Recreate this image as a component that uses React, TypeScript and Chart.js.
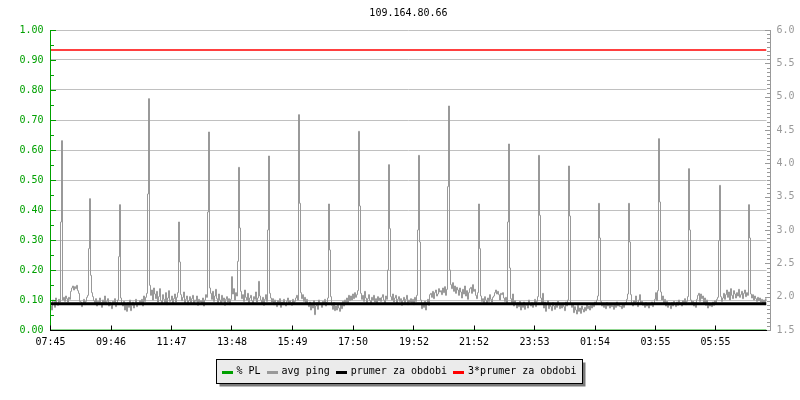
import React, { useEffect, useRef } from "react";
import { Chart, registerables } from "chart.js";

Chart.register(...registerables);

// ---------------- data ----------------
const chartTitle = "109.164.80.66";
const startTime = "07:45";
const timeLabels = ["07:45", "09:46", "11:47", "13:48", "15:49", "17:50", "19:52", "21:52", "23:53", "01:54", "03:55", "05:55"];
const sampleStepMin = 2;
const axisEndMin = 1432;

const seriesNames = ["% PL", "avg ping", "prumer za obdobi", "3*prumer za obdobi"];
const seriesColors = ["#00a000", "#999999", "#000000", "#ff0000"];

// packet loss (left axis, %) — none recorded
const packetLossPct = 0;
// average of the period (ms, right axis)
const periodAverage = 1.895;
const periodAverageTriple = 5.7;

// avg ping, one sample per 2 minutes (ms, right axis)
const avgPing: number[] = [
  1.86,1.80,1.95,1.93,1.84,1.98,1.90,1.87,1.96,1.92,3.12,4.34,1.95,1.99,1.93,2.01,1.97,1.92,1.99,1.96,2.08,2.13,2.16,2.10,2.15,2.12,2.17,2.09,2.05,1.93,
  1.92,1.85,1.90,1.96,1.88,1.93,1.99,2.02,2.72,3.47,2.32,2.06,2.00,1.94,1.90,1.97,1.86,1.93,1.89,1.98,1.91,1.84,1.95,1.90,2.01,1.88,1.93,1.97,1.86,1.92,
  1.87,1.82,1.93,1.89,1.97,1.85,1.91,1.95,2.60,3.38,1.98,1.90,1.86,1.93,1.80,1.88,1.78,1.91,1.84,1.95,1.79,1.87,1.92,1.83,1.89,1.96,1.85,1.91,1.88,1.94,
  1.90,1.96,1.86,2.01,1.93,1.99,2.05,3.54,4.97,2.17,2.02,2.10,1.95,2.13,2.04,1.97,2.08,1.92,2.00,2.12,1.94,1.89,2.03,1.96,1.91,2.06,1.88,1.98,2.09,1.93,
  1.95,2.01,1.89,1.97,2.04,1.92,1.99,2.06,3.12,2.52,2.03,1.94,1.99,2.07,1.90,1.96,2.01,1.88,1.94,2.00,1.91,1.97,2.02,1.89,1.95,1.93,2.01,1.87,1.96,1.92,
  1.94,1.90,1.98,1.86,1.95,2.03,1.99,3.27,4.47,2.13,2.05,1.96,2.08,1.93,2.01,2.11,1.97,1.91,2.04,1.95,1.89,2.02,1.93,1.98,1.87,1.96,2.00,1.92,1.97,1.88,
  1.96,2.30,2.04,2.12,1.95,2.06,2.01,2.53,3.94,3.03,2.08,1.97,2.03,1.93,2.10,1.99,1.95,2.05,1.91,1.98,2.02,1.94,1.89,2.00,1.96,2.07,1.92,1.98,2.23,2.01,
  1.95,1.90,1.99,1.87,1.96,2.03,1.93,3.00,4.11,2.05,1.98,1.92,1.97,1.88,1.95,1.91,1.85,1.94,1.89,1.97,1.84,1.92,1.88,1.96,1.90,1.86,1.93,1.98,1.89,1.94,
  1.91,1.87,1.96,1.89,1.93,1.98,2.02,1.95,4.73,3.40,2.06,1.97,2.03,1.93,1.99,1.90,1.96,1.88,1.85,1.92,1.80,1.89,1.83,1.94,1.73,1.86,1.91,1.81,1.95,1.88,
  1.90,1.84,1.93,1.88,1.96,1.86,1.92,1.98,3.39,2.70,2.00,1.87,1.81,1.91,1.79,1.86,1.80,1.89,1.83,1.78,1.88,1.82,1.93,1.86,1.95,1.91,1.98,1.89,2.02,1.94,
  2.01,1.95,2.04,1.97,2.06,1.99,2.03,2.09,4.48,3.36,2.05,1.96,2.02,1.93,2.08,1.98,1.91,1.97,2.03,1.94,1.90,1.99,1.95,2.02,1.92,1.97,1.89,2.00,1.94,1.98,
  1.93,1.99,2.03,1.95,1.90,2.01,1.96,2.40,3.98,3.02,2.00,1.95,2.04,1.92,1.98,2.02,1.89,1.96,2.00,1.93,1.97,1.87,1.94,1.99,1.91,1.96,2.02,1.88,1.95,1.92,
  1.97,1.91,1.96,1.88,1.99,1.93,2.02,3.00,4.12,2.82,1.95,1.82,1.90,1.84,1.93,1.80,1.91,1.96,1.87,2.03,2.05,1.99,2.08,1.97,2.06,2.10,2.01,2.04,2.12,2.07,
  2.09,2.03,2.13,2.06,2.15,2.02,2.11,3.65,4.86,2.40,2.18,2.12,2.21,2.08,2.16,2.05,2.14,2.10,2.02,2.13,2.07,1.98,2.11,2.04,2.16,2.01,2.09,1.96,2.06,2.12,
  2.14,2.05,2.18,2.08,2.11,2.02,1.97,2.06,3.39,2.72,2.01,1.93,1.97,1.91,2.00,1.95,1.89,1.98,1.93,2.03,1.96,1.92,1.99,2.01,2.06,2.10,2.04,2.08,2.03,1.95,
  2.05,2.03,2.06,1.98,1.93,1.99,1.90,3.12,4.29,2.43,1.97,1.91,2.04,1.86,1.94,1.89,1.83,1.91,1.85,1.93,1.80,1.88,1.84,1.92,1.81,1.87,1.90,1.83,1.95,1.88,
  1.86,1.91,1.84,1.89,1.96,1.85,1.93,2.00,4.12,3.22,1.98,1.89,2.05,1.83,1.92,1.78,1.88,1.94,1.82,1.90,1.85,1.79,1.91,1.86,1.81,1.89,1.84,1.93,1.87,1.82,
  1.88,1.83,1.90,1.85,1.79,1.92,1.86,1.95,3.96,3.21,1.90,1.84,1.88,1.76,1.85,1.80,1.74,1.87,1.78,1.83,1.75,1.86,1.81,1.77,1.84,1.79,1.88,1.82,1.86,1.80,
  1.87,1.83,1.90,1.85,1.92,1.88,1.95,2.01,3.40,2.88,1.93,1.86,1.90,1.84,1.89,1.82,1.91,1.86,1.88,1.83,1.90,1.85,1.87,1.81,1.89,1.84,1.92,1.86,1.88,1.85,
  1.86,1.82,1.89,1.84,1.88,1.91,1.96,2.04,3.40,2.82,2.03,1.90,1.86,1.94,1.88,2.01,1.92,1.85,1.95,2.03,1.89,1.93,1.87,1.90,1.84,1.91,1.86,1.89,1.83,1.90,
  1.87,1.92,1.85,1.90,1.96,2.06,1.94,2.09,4.37,3.42,2.07,1.95,2.01,1.89,1.96,1.86,1.93,1.84,1.90,1.87,1.82,1.91,1.86,1.93,1.88,1.85,1.92,1.87,1.95,1.89,
  1.91,1.86,1.94,1.89,1.97,1.88,1.93,2.00,3.92,3.00,1.95,1.88,1.93,1.86,1.91,1.84,1.96,2.02,2.05,1.93,2.04,1.97,2.01,1.90,1.98,1.87,1.95,1.83,1.90,1.86,
  1.89,1.85,1.92,1.87,1.94,1.90,1.96,1.99,2.84,3.67,2.00,1.93,1.98,2.05,1.96,2.03,2.10,1.99,2.07,1.95,2.12,2.02,1.97,2.09,2.04,1.98,2.06,2.01,2.11,1.99,
  2.03,2.08,1.97,2.05,2.10,2.00,2.06,2.02,3.38,2.88,2.04,1.98,2.03,1.95,2.01,1.97,1.93,1.99,1.94,1.98,1.92,1.96,1.90,1.95,1.88,1.97,1.93,
];

// ---------------- helpers ----------------
const FONT_FAMILY = "'DejaVu Sans Mono', monospace";
const FONT_SIZE = 10;

function toMin(s: string) {
  const [h, m] = s.split(":").map(Number);
  return h * 60 + m;
}
const startMin = toMin(startTime);
const tickMinutes = timeLabels.map((l) => (toMin(l) - startMin + 1440) % 1440);

const pingPoints = avgPing.map((v, i) => ({ x: i * sampleStepMin, y: v }));
const plPoints = avgPing.map((_, i) => ({ x: i * sampleStepMin, y: packetLossPct }));
const avgPoints = [
  { x: 0, y: periodAverage },
  { x: axisEndMin, y: periodAverage },
];
const avg3Points = [
  { x: 0, y: periodAverageTriple },
  { x: axisEndMin, y: periodAverageTriple },
];

const decorPlugin = {
  id: "decor",
  afterDatasetsDraw(chart: any) {
    const { ctx, chartArea: a, scales } = chart;
    const xs = scales.x;
    const yL = scales.yL;
    const yR = scales.yR;
    const lx = Math.floor(a.left) + 0.5;
    const rx = Math.floor(a.right) + 4 + 0.5;
    const by = Math.floor(a.bottom) + 0.5;
    ctx.save();
    ctx.lineWidth = 1;

    // left axis (green) with inward ticks
    ctx.strokeStyle = seriesColors[0];
    ctx.beginPath();
    ctx.moveTo(lx, a.top);
    ctx.lineTo(lx, by + 0.5);
    for (let k = 0; k <= 20; k++) {
      const py = Math.round(yL.getPixelForValue(k * 0.05)) + 0.5;
      const len = k % 2 === 0 ? 5 : 3;
      ctx.moveTo(lx - 0.5, py);
      ctx.lineTo(lx + 0.5 + len, py);
    }
    ctx.stroke();

    // right axis (grey), offset 4px, ticks inward
    ctx.strokeStyle = "#999999";
    ctx.beginPath();
    ctx.moveTo(rx, a.top);
    ctx.lineTo(rx, by + 0.5);
    for (let k = 0; k <= 72; k++) {
      const v = 1.5 + k * 0.0625;
      const py = Math.round(yR.getPixelForValue(v)) + 0.5;
      const len = k % 8 === 0 ? 5 : 3;
      ctx.moveTo(rx + 0.5, py);
      ctx.lineTo(rx - 0.5 - len, py);
    }
    ctx.stroke();

    // x axis (black) with inward ticks
    ctx.strokeStyle = "#000000";
    ctx.beginPath();
    ctx.moveTo(lx - 0.5, by);
    ctx.lineTo(Math.floor(a.right) + 1, by);
    for (const t of tickMinutes) {
      const px = Math.floor(xs.getPixelForValue(t)) + 0.5;
      ctx.moveTo(px, by + 0.5);
      ctx.lineTo(px, by - 5);
    }
    ctx.stroke();
    ctx.restore();
  },
  afterDraw(chart: any) {
    const { ctx, chartArea: a, width } = chart;
    ctx.save();
    ctx.font = `${FONT_SIZE}px ${FONT_FAMILY}`;

    // title
    ctx.fillStyle = "#000";
    ctx.textAlign = "center";
    ctx.textBaseline = "middle";
    ctx.fillText(chartTitle, (a.left + a.right) / 2, 13);

    // legend box
    const sw = 11, g1 = 4, g2 = 6, padL = 5, padR = 6;
    const widths = seriesNames.map((n) => ctx.measureText(n).width);
    let total = padL + padR;
    widths.forEach((w, i) => {
      total += sw + g1 + w + (i < widths.length - 1 ? g2 : 0);
    });
    total = Math.round(total);
    const bx = Math.round(width / 2 - total / 2) - 1 + 0.5;
    const bY = 359.5;
    const bh = 24;
    ctx.fillStyle = "#7a7a7a";
    ctx.fillRect(bx + 3, bY + 3, total, bh);
    ctx.fillStyle = "#ebebeb";
    ctx.fillRect(bx, bY, total, bh);
    ctx.strokeStyle = "#000";
    ctx.lineWidth = 1;
    ctx.strokeRect(bx, bY, total, bh);

    let cx = bx + padL;
    ctx.textAlign = "left";
    ctx.textBaseline = "alphabetic";
    seriesNames.forEach((n, i) => {
      ctx.fillStyle = seriesColors[i];
      ctx.fillRect(Math.round(cx), 371, sw, 3);
      cx += sw + g1;
      ctx.fillStyle = "#000";
      ctx.fillText(n, cx, 373.5);
      cx += widths[i] + g2;
    });
    ctx.restore();
  },
};

export default function App() {
  const ref = useRef<HTMLCanvasElement>(null);
  useEffect(() => {
    document.body.style.margin = "0";
    const font = { family: FONT_FAMILY, size: FONT_SIZE };
    const chart = new Chart(ref.current as HTMLCanvasElement, {
      type: "line",
      data: {
        datasets: [
          {
            label: seriesNames[0],
            data: plPoints,
            yAxisID: "yL",
            borderColor: seriesColors[0],
            borderWidth: 1,
            pointRadius: 0,
            stepped: true,
            order: 0,
          },
          {
            label: seriesNames[1],
            data: pingPoints,
            yAxisID: "yR",
            borderColor: seriesColors[1],
            borderWidth: 1,
            pointRadius: 0,
            stepped: true,
            order: 3,
          },
          {
            label: seriesNames[2],
            data: avgPoints,
            yAxisID: "yR",
            borderColor: seriesColors[2],
            borderWidth: 3,
            pointRadius: 0,
            order: 1,
          },
          {
            label: seriesNames[3],
            data: avg3Points,
            yAxisID: "yR",
            borderColor: seriesColors[3],
            borderWidth: 1.5,
            pointRadius: 0,
            order: 2,
          },
        ],
      },
      options: {
        responsive: false,
        animation: false,
        layout: { padding: { top: 30, left: 0.5, right: -0.5, bottom: 0 } },
        elements: { line: { tension: 0 }, point: { radius: 0 } },
        plugins: {
          legend: { display: false },
          title: { display: false },
          tooltip: { enabled: false },
        },
        scales: {
          x: {
            type: "linear",
            position: "bottom",
            min: 0,
            max: axisEndMin,
            grid: { display: false, drawTicks: false },
            border: { display: false },
            afterBuildTicks: (s: any) => {
              s.ticks = tickMinutes.map((v) => ({ value: v }));
            },
            afterFit: (s: any) => {
              s.height = 70;
            },
            ticks: {
              autoSkip: false,
              maxRotation: 0,
              padding: 6,
              color: "#000",
              font,
              callback: (_v: any, i: number) => timeLabels[i],
            },
          },
          yL: {
            type: "linear",
            position: "left",
            min: 0,
            max: 1,
            grid: { color: "#c0c0c0", drawTicks: false, lineWidth: 1 },
            border: { display: false },
            afterFit: (s: any) => {
              s.width = 50;
            },
            ticks: {
              stepSize: 0.1,
              padding: 7,
              color: seriesColors[0],
              font,
              callback: (v: any) => Number(v).toFixed(2),
            },
          },
          yR: {
            type: "linear",
            position: "right",
            min: 1.5,
            max: 6,
            grid: { drawOnChartArea: false, drawTicks: false },
            border: { display: false },
            afterFit: (s: any) => {
              s.width = 34;
            },
            ticks: {
              stepSize: 0.5,
              padding: 10,
              color: "#999999",
              font,
              callback: (v: any) => Number(v).toFixed(1),
            },
          },
        },
      } as any,
      plugins: [decorPlugin],
    });
    return () => chart.destroy();
  }, []);
  return (
    <div style={{ width: 800, height: 400 }}>
      <canvas ref={ref} width={800} height={400} style={{ display: "block" }} />
    </div>
  );
}
